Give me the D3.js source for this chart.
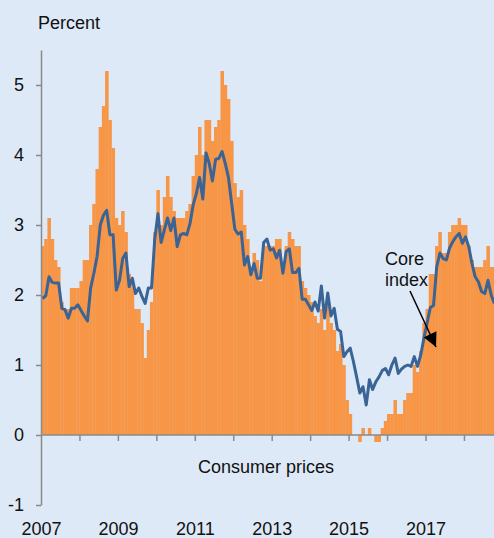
<!DOCTYPE html>
<html>
<head>
<meta charset="utf-8">
<script src="https://cdn.jsdelivr.net/npm/d3@7"></script>
<style>
  html, body { margin: 0; padding: 0; background: #dde9f7; overflow: hidden; }
  svg { display: block; }
  text { font-family: "Liberation Sans", Arial, sans-serif; fill: #111; }
</style>
</head>
<body>
<svg id="chart" width="494" height="538"></svg>
<script>
// Monthly data, Jan 2007 onward
const startYear = 2007;
const consumerPrices = [
  2.7, 2.8, 3.1, 2.8, 2.5, 2.4, 1.9, 1.8, 1.8, 2.1, 2.1, 2.1,   // 2007
  2.2, 2.5, 2.5, 3.0, 3.3, 3.8, 4.4, 4.7, 5.2, 4.5, 4.1, 3.1,   // 2008
  3.0, 3.2, 2.9, 2.3, 2.2, 1.8, 1.8, 1.6, 1.1, 1.5, 1.9, 2.9,   // 2009
  3.5, 3.0, 3.4, 3.7, 3.4, 3.2, 3.1, 3.1, 3.1, 3.2, 3.3, 3.7,   // 2010
  4.0, 4.4, 4.0, 4.5, 4.5, 4.2, 4.4, 4.5, 5.2, 5.0, 4.8, 4.2,   // 2011
  3.6, 3.4, 3.5, 3.0, 2.8, 2.4, 2.6, 2.5, 2.2, 2.7, 2.7, 2.7,   // 2012
  2.7, 2.8, 2.8, 2.4, 2.7, 2.9, 2.8, 2.7, 2.7, 2.2, 2.1, 2.0,   // 2013
  1.9, 1.7, 1.6, 1.8, 1.5, 1.9, 1.6, 1.5, 1.2, 1.3, 1.0, 0.5,   // 2014
  0.3, 0.0, 0.0, -0.1, 0.1, 0.0, 0.1, 0.0, -0.1, -0.1, 0.1, 0.2, // 2015
  0.3, 0.3, 0.5, 0.3, 0.3, 0.5, 0.6, 0.6, 1.0, 0.9, 1.2, 1.6,   // 2016
  1.8, 2.3, 2.3, 2.7, 2.9, 2.6, 2.6, 2.9, 3.0, 3.0, 3.1, 3.0,   // 2017
  3.0, 2.7, 2.5, 2.4, 2.4, 2.4, 2.5, 2.7, 2.4, 2.4              // 2018
];
const coreIndex = [
  1.95, 1.99, 2.26, 2.18, 2.17, 2.17, 1.81, 1.79, 1.67, 1.81, 1.81, 1.86, // 2007
  1.78, 1.70, 1.63, 2.10, 2.31, 2.55, 3.00, 3.14, 3.21, 2.86, 2.86, 2.07, // 2008
  2.21, 2.52, 2.60, 2.12, 2.24, 2.02, 2.10, 1.98, 1.88, 2.10, 2.10, 2.80, // 2009
  3.16, 2.75, 2.93, 3.10, 2.92, 3.10, 2.69, 2.86, 2.88, 2.86, 3.02, 3.29, // 2010
  3.45, 3.68, 3.37, 4.03, 3.88, 3.63, 3.94, 3.95, 4.05, 3.88, 3.68, 3.31, // 2011
  2.94, 2.87, 2.90, 2.43, 2.55, 2.29, 2.45, 2.24, 2.24, 2.75, 2.80, 2.64, // 2012
  2.66, 2.53, 2.64, 2.31, 2.62, 2.66, 2.32, 2.32, 2.38, 1.94, 1.94, 1.86, // 2013
  1.78, 1.90, 1.77, 2.13, 1.67, 2.03, 1.70, 1.81, 1.51, 1.48, 1.12, 1.19, // 2014
  1.24, 1.05, 0.83, 0.60, 0.69, 0.43, 0.79, 0.65, 0.76, 0.83, 0.92, 0.95, // 2015
  0.86, 1.00, 1.10, 0.88, 0.94, 0.98, 1.00, 0.98, 1.12, 0.98, 1.14, 1.38, // 2016
  1.60, 1.82, 1.85, 2.40, 2.60, 2.52, 2.50, 2.67, 2.76, 2.83, 2.88, 2.74, // 2017
  2.83, 2.69, 2.45, 2.26, 2.19, 2.05, 2.02, 2.21, 2.00, 1.88              // 2018
];
const yearTicks = [2008, 2009, 2010, 2011, 2012, 2013, 2014, 2015, 2016, 2017, 2018];
const yearLabels = [2007, 2009, 2011, 2013, 2015, 2017];
const valueTicks = [-1, 0, 1, 2, 3, 4, 5];

const svg = d3.select("#chart");
const FONT = 18;

const x = d3.scaleLinear().domain([2007, 2019]).range([41, 502.4]);
const y = d3.scaleLinear().domain([-1, 5.5]).range([505, 50]);
const monthPos = i => x(startYear + i / 12);
const barW = monthPos(1) - monthPos(0);

// Bars
svg.append("g")
  .selectAll("rect")
  .data(consumerPrices)
  .join("rect")
  .attr("x", (d, i) => monthPos(i))
  .attr("width", barW + 0.35)
  .attr("y", d => y(Math.max(0, d)))
  .attr("height", d => Math.abs(y(d) - y(0)))
  .attr("fill", "#f79646");

// Core line
const line = d3.line()
  .x((d, i) => monthPos(i) + barW / 2)
  .y(d => y(d));
svg.append("path")
  .datum(coreIndex)
  .attr("d", line)
  .attr("fill", "none")
  .attr("stroke", "#3a6396")
  .attr("stroke-width", 3)
  .attr("stroke-linejoin", "round");

// X axis at zero
const xAxis = svg.append("g")
  .attr("transform", `translate(0,${y(0)})`)
  .call(d3.axisBottom(x).tickValues(yearTicks).tickSize(6).tickSizeOuter(0).tickFormat(""));
xAxis.select(".domain").attr("d", `M${x(2007)},0H494`);
xAxis.selectAll("line").attr("stroke", "#8a8a8a").attr("stroke-width", 1.5);
xAxis.select(".domain").attr("stroke", "#8a8a8a").attr("stroke-width", 1.5);

// Year labels at bottom
const xLab = svg.append("g")
  .attr("transform", `translate(0,${y(-1)})`)
  .call(d3.axisBottom(x).tickValues(yearLabels).tickSize(0).tickFormat(d => String(d)));
xLab.select(".domain").remove();
xLab.selectAll("text")
  .attr("y", 30).attr("dy", 0)
  .style("font-size", FONT + "px")
  .style("font-family", "'Liberation Sans', Arial, sans-serif")
  .attr("fill", "#111");

// Y axis
const yAxis = svg.append("g")
  .attr("transform", `translate(${x(2007)},0)`)
  .call(d3.axisLeft(y).tickValues(valueTicks).tickSize(5).tickSizeOuter(0).tickPadding(12).tickFormat(d => String(d)));
yAxis.select(".domain").attr("stroke", "#8a8a8a").attr("stroke-width", 1.5);
yAxis.selectAll("line").attr("stroke", "#8a8a8a").attr("stroke-width", 1.5);
yAxis.selectAll("text")
  .style("font-size", FONT + "px")
  .style("font-family", "'Liberation Sans', Arial, sans-serif")
  .attr("fill", "#111");

// Titles
svg.append("text").attr("x", 38).attr("y", 29).style("font-size", FONT + "px").text("Percent");
svg.append("text").attr("x", 266).attr("y", 473).attr("text-anchor", "middle")
  .style("font-size", FONT + "px").text("Consumer prices");

// Annotation
svg.append("text").attr("x", 385).attr("y", 265).style("font-size", FONT + "px").text("Core");
svg.append("text").attr("x", 385).attr("y", 286).style("font-size", FONT + "px").text("index");

svg.append("defs").append("marker")
  .attr("id", "arrowhead")
  .attr("viewBox", "0 0 10 10")
  .attr("refX", 10).attr("refY", 5)
  .attr("markerWidth", 15).attr("markerHeight", 14)
  .attr("markerUnits", "userSpaceOnUse")
  .attr("orient", "auto")
  .append("path").attr("d", "M0,0L10,5L0,10Z").attr("fill", "#000");

svg.append("line")
  .attr("x1", 410).attr("y1", 291)
  .attr("x2", 436).attr("y2", 347)
  .attr("stroke", "#000").attr("stroke-width", 1.5)
  .attr("marker-end", "url(#arrowhead)");
</script>
</body>
</html>
